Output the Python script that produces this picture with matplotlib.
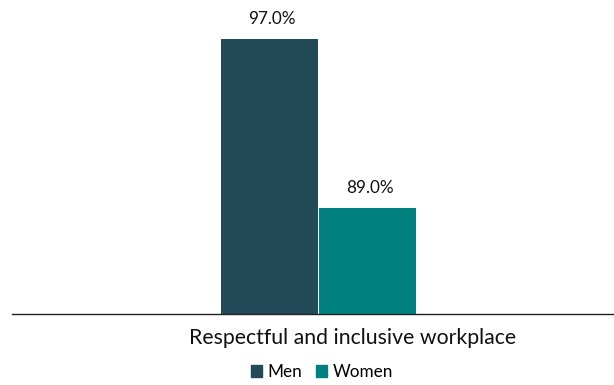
import matplotlib.pyplot as plt
import matplotlib.patches as mpatches

# Share of respondents agreeing, by gender
category = 'Respectful and inclusive workplace'
groups = ['Men', 'Women']
values = [97.0, 89.0]
colors = ['#234A59', '#00807F']

plt.rcParams['font.family'] = ['Lato', 'DejaVu Sans']

fig = plt.figure(figsize=(6.14, 3.85), dpi=100)
ax = fig.add_axes([12 / 614, 1 - 314 / 385, 602 / 614, 314 / 385])

xs = [-0.5, 0.5]
bars = ax.bar(xs, values, width=0.985, color=colors, bottom=0)
ax.set_ylim(84, 98.86)
ax.set_xlim(-3.128, 3.015)

for x, v in zip(xs, values):
    ax.annotate(f'{v:.1f}%', (x, v), xytext=(1.5, 11), textcoords='offset points',
                ha='center', va='baseline', fontsize=12.3, color='#111111')

ax.text(0.35, -0.078, category, transform=ax.get_xaxis_transform(),
        ha='center', va='center', fontsize=15.3, color='#111111')

for s in ['top', 'right', 'left']:
    ax.spines[s].set_visible(False)
ax.spines['bottom'].set_color('#222222')
ax.spines['bottom'].set_linewidth(1)
ax.set_xticks([])
ax.set_yticks([])

handles = [mpatches.Patch(color=c, label=g) for g, c in zip(groups, colors)]
fig.legend(handles=handles, loc='center', bbox_to_anchor=(322 / 614, 1 - 372 / 385),
           ncol=2, frameon=False, fontsize=12.3, handlelength=0.65, handleheight=0.65,
           handletextpad=0.35, columnspacing=0.8)

fig.savefig('out.png', dpi=100)
